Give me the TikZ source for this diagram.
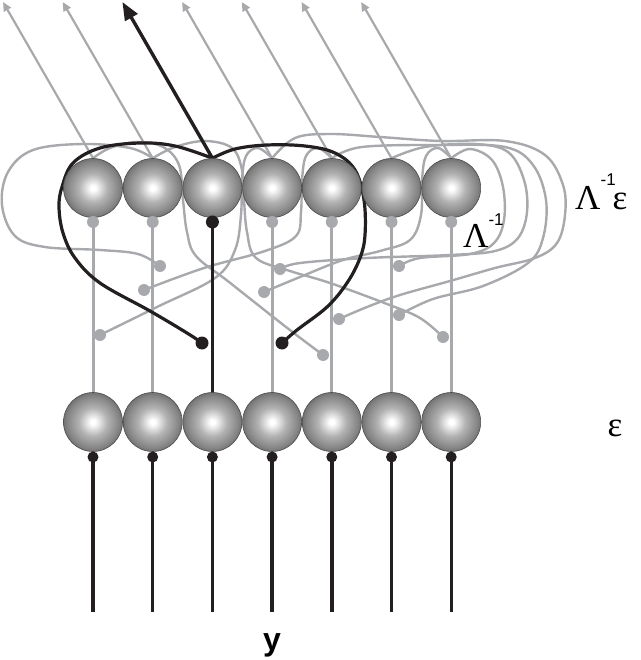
\documentclass[tikz,border=0pt]{standalone}
\usepackage{fontspec}
\setmainfont{Liberation Serif}
\setsansfont{Liberation Sans}
\usetikzlibrary{arrows.meta}
\definecolor{lg}{HTML}{A7A9AC}
\definecolor{bk}{HTML}{231F20}
\pgfdeclareradialshading{ballshade}{\pgfpoint{0bp}{0bp}}{color(0bp)=(white); color(2bp)=(white); color(12bp)=(black!30); color(22bp)=(black!48); color(25bp)=(black!55); color(50bp)=(black!55)}
\pgfdeclarelayer{bg}
\pgfsetlayers{bg,main}
\tikzset{
  unit/.style={circle, minimum size=59pt, inner sep=0pt, draw=black!70, line width=0.6pt, shading=ballshade},
  gdot/.style={circle, fill=lg, minimum size=12pt, inner sep=0pt},
  kdot/.style={circle, fill=bk, minimum size=13pt, inner sep=0pt},
  bdot/.style={circle, fill=bk, minimum size=11pt, inner sep=0pt},
  gcurve/.style={draw=lg, line width=2.4pt},
  kcurve/.style={draw=bk, line width=3.2pt},
  gvert/.style={draw=lg, line width=3pt},
  kvert/.style={draw=bk, line width=3.4pt},
  garrow/.style={draw=lg, line width=2.2pt, -{Triangle[length=9pt,width=8pt]}},
  karrow/.style={draw=bk, line width=3.4pt, -{Triangle[length=18pt,width=14pt]}},
  lbl/.style={inner sep=0pt}
}
\begin{document}
\begin{tikzpicture}[x=1pt,y=-1pt]
\useasboundingbox (0,0) rectangle (640,660);
\foreach \i in {1,...,7} {
  \pgfmathsetmacro\cx{93+59.7*(\i-1)}
  \node[unit] (t\i) at (\cx,188) {};
  \node[unit] (b\i) at (\cx,422) {};
  \ifnum\i=3 \def\ds{kdot}\else\def\ds{gdot}\fi
  \node[\ds] (td\i) at (\cx,222) {};
  \node[bdot] (bd\i) at (\cx,457) {};
  \coordinate (yend\i) at (\cx,612);
  \coordinate (tip\i) at (\cx-90,2);
}
% synapse dots
\node[gdot] (dA) at (160,266) {};
\node[gdot] (dB) at (144,290) {};
\node[gdot] (dC) at (100,335) {};
\node[gdot] (dD) at (280,269) {};
\node[gdot] (dE) at (264,292) {};
\node[gdot] (dF) at (323,355) {};
\node[gdot] (dG) at (339,319) {};
\node[gdot] (dH) at (399,266) {};
\node[gdot] (dI) at (399,315) {};
\node[gdot] (dJ) at (443,337) {};
\node[kdot] (dK1) at (202,343) {};
\node[kdot] (dK2) at (282,343) {};
% labels
\node[lbl, anchor=base west] (lab1) at (575,210) {\fontsize{35}{35}\selectfont Λ\raisebox{0.7em}{\sffamily\fontsize{17}{17}\selectfont -1}\kern-3pt ε};
\node[lbl, anchor=base west] (lab2) at (463,247) {\fontsize{35}{35}\selectfont Λ\raisebox{0.6em}{\sffamily\fontsize{17}{17}\selectfont -1}};
\node[lbl, anchor=base] (lab3) at (615,436) {\fontsize{35}{35}\selectfont ε};
\node[lbl, anchor=base] (lab4) at (272,650) {\sffamily\bfseries\fontsize{32}{32}\selectfont y};
\begin{pgfonlayer}{bg}
  % output arrows
  \foreach \i in {1,2,4,5,6,7} { \draw[garrow] (t\i.north) -- (tip\i); }
  % vertical lines
  \foreach \i in {1,2,4,5,6,7} { \draw[gvert] (b\i.center) -- (td\i.center); }
  \foreach \i in {1,...,7} { \draw[kvert] (bd\i.center) -- (yend\i); }
  % lateral gray connections
  \draw[gcurve] plot[smooth,tension=0.6] coordinates {(t2.north) (130,148) (83,144) (33,150) (8,172) (2,205) (15,236) (45,247) (100,250) (138,254) (dA)};
  \draw[gcurve] plot[smooth,tension=0.6] coordinates {(t1.north) (110,148) (137,142) (163,147) (179,165) (183,200) (187,232) (196,256) (229,282) (286,327) (dF)};
  \draw[gcurve] plot[smooth,tension=0.6] coordinates {(t2.north) (175,147) (205,141) (232,148) (242,170) (244,200) (247,232) (256,258) (290,271) (330,283) (387,304) (420,318) (dJ)};
  \draw[gcurve] plot[smooth,tension=0.6] coordinates {(t4.north) (258,148) (246,156) (242,180) (241,215) (235,250) (215,278) (157,307) (dC)};
  \draw[gcurve] plot[smooth,tension=0.6] coordinates {(t5.north) (318,148) (306,156) (302,180) (301,212) (296,236) (265,251) (204,268) (dB)};
  \draw[gcurve] plot[smooth,tension=0.6] coordinates {(t7.north) (438,148) (426,156) (422,180) (421,215) (410,240) (380,251) (343,260) (300,277) (dE)};
  \draw[gcurve] plot[smooth,tension=0.6] coordinates {(t6.north) (425,147) (475,144) (508,152) (524,180) (527,212) (518,238) (495,251) (450,255) (367,258) (300,263) (dD)};
  \draw[gcurve] plot[smooth,tension=0.6] coordinates {(t4.north) (295,138) (330,134) (380,137) (440,141) (505,141) (545,155) (563,185) (565,215) (557,243) (535,258) (495,268) (450,281) (400,295) (367,307) (dG)};
  \draw[gcurve] plot[smooth,tension=0.6] coordinates {(t5.north) (362,147) (440,145) (505,147) (533,165) (546,200) (543,238) (528,263) (483,286) (433,299) (dI)};
  \draw[gcurve] plot[smooth,tension=0.6] coordinates {(t7.north) (470,149) (492,160) (503,187) (504,220) (494,243) (470,254) (420,258) (dH)};
  % highlighted unit
  \draw[kvert] (b3.center) -- (td3.center);
  \draw[kcurve] plot[smooth,tension=0.6] coordinates {(t3.north) (175,146) (140,143) (100,148) (73,163) (62,187) (59,207) (63,233) (75,258) (100,283) (150,311) (187,333) (dK1)};
  \draw[kcurve] plot[smooth,tension=0.6] coordinates {(t3.north) (235,149) (267,145) (305,146) (335,153) (355,170) (364,200) (365,235) (360,258) (347,283) (327,307) (297,330) (dK2)};
  \draw[karrow] (t3.north) -- (tip3);
\end{pgfonlayer}
\end{tikzpicture}
\end{document}
